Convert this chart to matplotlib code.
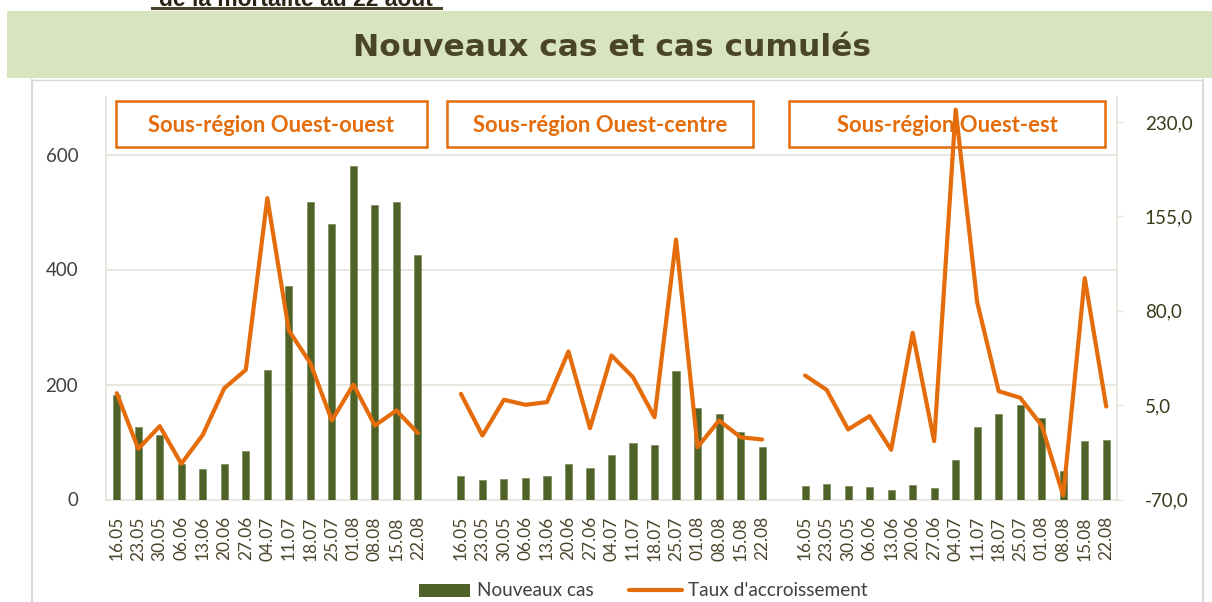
import numpy as np
import matplotlib
matplotlib.use("Agg")
import matplotlib.pyplot as plt
from matplotlib.patches import Rectangle
from matplotlib.lines import Line2D

# ---------------- data ----------------
dates = ["16.05", "23.05", "30.05", "06.06", "13.06", "20.06", "27.06", "04.07",
         "11.07", "18.07", "25.07", "01.08", "08.08", "15.08", "22.08"]
regions = ["Sous-région Ouest-ouest", "Sous-région Ouest-centre", "Sous-région Ouest-est"]

cas_ouest_ouest = [181, 126, 112, 62, 53, 62, 84, 225, 372, 517, 479, 580, 513, 517, 426]
cas_ouest_centre = [41, 34, 36, 38, 41, 61, 54, 77, 99, 95, 224, 160, 149, 118, 92]
cas_ouest_est = [23, 27, 23, 22, 16, 25, 20, 68, 126, 148, 164, 142, 49, 101, 104]

taux_ouest_ouest = [14.5, -29.7, -11.7, -41.6, -18.6, 18.5, 33.1, 169.6, 64.4, 38.4,
                    -7.2, 21.4, -11.2, 0.8, -17.3]
taux_ouest_centre = [14.0, -19.1, 9.3, 5.3, 7.4, 47.7, -13.3, 44.5, 27.2, -4.6,
                     136.7, -28.4, -7.2, -20.5, -22.3]
taux_ouest_est = [28.6, 17.2, -14.3, -3.7, -30.5, 62.5, -23.6, 239.9, 86.9, 16.1,
                  10.9, -11.2, -66.8, 106.0, 3.9]

left_ticks = [0, 200, 400, 600]
right_ticks = [-70, 5, 80, 155, 230]
right_tick_labels = ["-70,0", "5,0", "80,0", "155,0", "230,0"]

# ---------------- build category sequence (blank category between groups) -------
cas_groups = [cas_ouest_ouest, cas_ouest_centre, cas_ouest_est]
taux_groups = [taux_ouest_ouest, taux_ouest_centre, taux_ouest_est]
cats, cas_all, taux_all = [], [], []
for g in range(3):
    cats += dates
    cas_all += cas_groups[g]
    taux_all += taux_groups[g]
    if g < 2:
        cats.append("")
        cas_all.append(np.nan)
        taux_all.append(np.nan)
x = np.arange(len(cats))
cas_all = np.array(cas_all, dtype=float)
taux_all = np.array(taux_all, dtype=float)

# ---------------- style ----------------
GREEN = "#4F6228"
ORANGE = "#E46C0A"
GRID = "#E6E4D8"
TXT = "#4A452A"
W, H = 1212, 602
fig = plt.figure(figsize=(W / 100, H / 100), dpi=100)
fig.patch.set_facecolor("white")

def fx(px):
    return px / W

def fy(py):
    return 1 - py / H

# banner
fig.patches.append(Rectangle((fx(7), fy(78)), fx(1212 - 7), (78 - 11) / H,
                             transform=fig.transFigure, facecolor="#D8E4BD",
                             edgecolor="none", zorder=0))
fig.text(fx(612), fy(47), "Nouveaux cas et cas cumulés", ha="center", va="center",
         fontsize=22.5, fontweight="bold", color="#4A4428", family="DejaVu Sans")

# heading partly above the visible area (as in the reference)
fig.text(fx(296), fy(5.5), "de la mortalité au 22 août", ha="center", va="baseline",
         fontsize=16.5, fontweight="bold", color="#2A2616", family="Liberation Sans")
fig.lines.append(Line2D([fx(152), fx(441)], [fy(8), fy(8)], transform=fig.transFigure,
                        color="#4A4428", linewidth=2.2))

# chart-area border lines
for xb in (32, 1203):
    fig.lines.append(Line2D([fx(xb), fx(xb)], [fy(80), 0], transform=fig.transFigure,
                            color="#D9D9D9", linewidth=1.5))
fig.lines.append(Line2D([fx(32), fx(1203)], [fy(80), fy(80)], transform=fig.transFigure,
                        color="#D9D9D9", linewidth=1.0))

# ---------------- axes ----------------
ax_left, ax_right, ax_top, ax_bot = 106, 1117, 97, 499.5
ax = fig.add_axes([fx(ax_left), fy(ax_bot), fx(ax_right - ax_left), (ax_bot - ax_top) / H])
ax.set_xlim(-0.5, len(cats) - 0.5)
ax.set_ylim(0, 700)
ax.bar(x, cas_all, width=0.33, color=GREEN, edgecolor="#6E7F48", linewidth=0.4, zorder=3)

ax.set_yticks(left_ticks)
ax.set_yticklabels([str(v) for v in left_ticks])
for v in left_ticks[1:]:
    ax.axhline(v, color=GRID, linewidth=1.2, zorder=1)
ax.tick_params(axis="y", length=0, pad=20, labelsize=13.5, labelcolor="#404040")
for t in ax.get_yticklabels():
    t.set_family("Lato")

ax.set_xticks(x)
ax.set_xticklabels(cats, rotation=90, family="Lato", fontsize=12.5, color=TXT)
ax.tick_params(axis="x", length=0, pad=12)

for s in ["top", "right"]:
    ax.spines[s].set_visible(False)
ax.spines["left"].set_color(GRID)
ax.spines["left"].set_linewidth(1.2)
ax.spines["bottom"].set_color(GRID)
ax.spines["bottom"].set_linewidth(1.2)
ax.set_facecolor("none")

# region boxes
box_px = [(116, 427), (447, 753), (789, 1105)]
for (x0, x1), name in zip(box_px, regions):
    rect = Rectangle((fx(x0), fy(147)), fx(x1 - x0), (147 - 101.5) / H,
                     transform=fig.transFigure, facecolor="white", edgecolor=ORANGE,
                     linewidth=1.8, zorder=2)
    fig.patches.append(rect)
    fig.text(fx((x0 + x1) / 2), fy(125), name, ha="center", va="center",
             fontsize=15.8, fontweight="bold", color=ORANGE, family="Lato", zorder=3)

ax2 = ax.twinx()
ax2.set_zorder(5)
ax2.set_ylim(-70, 250)
ax2.plot(x, taux_all, color=ORANGE, linewidth=3.0, solid_joinstyle="round",
         solid_capstyle="round", zorder=4)
ax2.set_yticks(right_ticks)
ax2.set_yticklabels(right_tick_labels)
ax2.tick_params(axis="y", length=4, width=1, color=GRID, pad=16, labelsize=13.5,
                labelcolor="#3B3A1C")
for t in ax2.get_yticklabels():
    t.set_family("Lato")
for s in ["top", "left", "bottom"]:
    ax2.spines[s].set_visible(False)
ax2.spines["right"].set_color(GRID)
ax2.spines["right"].set_linewidth(1.2)
ax2.set_facecolor("none")

# legend
fig.patches.append(Rectangle((fx(419), fy(597)), fx(51), 13 / H, transform=fig.transFigure,
                             facecolor=GREEN, edgecolor="none"))
fig.text(fx(477), fy(590), "Nouveaux cas", ha="left", va="center", fontsize=13.7,
         color="#404040", family="Lato")
fig.lines.append(Line2D([fx(629), fx(682)], [fy(590), fy(590)], transform=fig.transFigure,
                        color=ORANGE, linewidth=3.0, solid_capstyle="round"))
fig.text(fx(688), fy(590), "Taux d'accroissement", ha="left", va="center", fontsize=13.7,
         color="#404040", family="Lato")

fig.savefig("out.png", dpi=100)
